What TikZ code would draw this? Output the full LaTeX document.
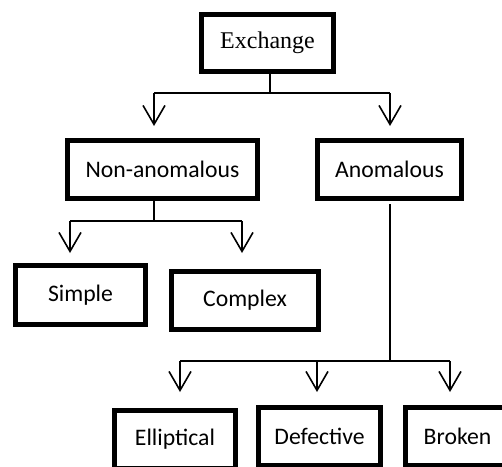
\documentclass[tikz,border=0pt]{standalone}
\usepackage{fontspec}
\setmainfont{Liberation Serif}
\newfontfamily\calfont{Carlito}
\usetikzlibrary{arrows.meta}
\begin{document}
\begin{tikzpicture}[x=1pt,y=-1pt,
  box/.style={draw,line width=4.7pt,inner sep=0pt,anchor=center},
  sansbox/.style={box,font=\calfont\fontsize{23.7}{28}\selectfont},
  serifbox/.style={box,font=\fontsize{24}{28}\selectfont},
  conn/.style={line width=1.6pt},
  arr/.style={conn,-{Straight Barb[length=19pt,width=22pt]}}]
\useasboundingbox (0,0) rectangle (502,466);
\clip (0,0) rectangle (502,466);
% boxes
\node[serifbox,minimum width=132.3pt,minimum height=57.3pt] (ex) at (267.5,43) {Exchange};
\node[sansbox,minimum width=190.3pt,minimum height=58.3pt] (na) at (162.5,169.5) {Non-anomalous};
\node[sansbox,minimum width=144.3pt,minimum height=58.3pt] (an) at (389.5,169.5) {Anomalous};
\node[sansbox,minimum width=130.3pt,minimum height=59.3pt] (si) at (80.5,295) {Simple};
\node[sansbox,minimum width=147.3pt,minimum height=58.3pt] (co) at (245,300.5) {Complex};
\node[sansbox,minimum width=121.3pt,minimum height=58.3pt] (el) at (175,439.5) {Elliptical};
\node[sansbox,minimum width=122.3pt,minimum height=58.3pt] (de) at (319.5,436.5) {Defective};
\node[sansbox,minimum width=104.3pt,minimum height=58.3pt] (br) at (457.5,436.5) {Broken};
% junction coordinates
\coordinate (j1) at (270,93);
\coordinate (j1l) at (154,93);
\coordinate (j1r) at (390,93);
\coordinate (t1l) at (154,126);
\coordinate (t1r) at (390,126);
\coordinate (j2) at (154,221);
\coordinate (j2l) at (70,221);
\coordinate (j2r) at (242,221);
\coordinate (t2l) at (70,253);
\coordinate (t2r) at (242,253);
\coordinate (j3) at (390,361);
\coordinate (j3l) at (180,361);
\coordinate (j3m) at (317,361);
\coordinate (j3r) at (450,361);
\coordinate (t3l) at (180,392);
\coordinate (t3m) at (317,392);
\coordinate (t3r) at (450,392);
% connectors
\draw[conn] (ex.south -| j1) -- (j1);
\draw[conn] (j1l) -- (j1r);
\draw[arr] (j1l) -- (t1l);
\draw[arr] (j1r) -- (t1r);
\draw[conn] (na.south -| j2) -- (j2);
\draw[conn] (j2l) -- (j2r);
\draw[arr] (j2l) -- (t2l);
\draw[arr] (j2r) -- (t2r);
\draw[conn] (an.south -| j3) ++(0,3) -- (j3);
\draw[conn] (j3l) -- (j3r);
\draw[arr] (j3l) -- (t3l);
\draw[arr] (j3m) -- (t3m);
\draw[arr] (j3r) -- (t3r);
\end{tikzpicture}
\end{document}
